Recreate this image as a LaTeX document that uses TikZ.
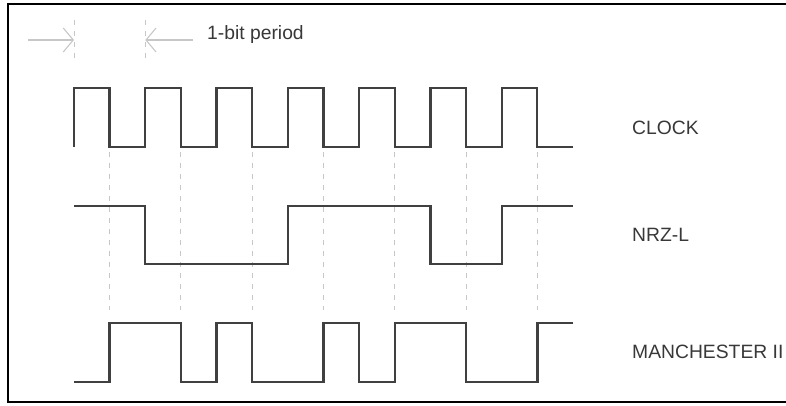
\documentclass[tikz,border=0pt]{standalone}
\usepackage{fontspec}
\setmainfont{Liberation Sans}
\usetikzlibrary{arrows.meta}

\begin{document}
\begin{tikzpicture}[x=1pt,y=-1pt]
\tikzstyle{wave}=[draw=black!75,line width=2.3pt,line join=miter]
\tikzstyle{guide}=[draw=black!22,line width=1pt,dash pattern=on 5pt off 6pt]
\tikzstyle{marker}=[draw=black!22,line width=1.1pt,-{Straight Barb[length=10pt,width=24pt]}]
\tikzstyle{signame}=[anchor=west,inner sep=0pt,text=black!78,font=\fontsize{19.3}{22}\selectfont]
\useasboundingbox (0,0) rectangle (786,406);
\draw[line width=2.4pt] (790,4) -- (8,4) -- (8,402) -- (790,402);
% bit period marker
\draw[guide] (74,20) -- (74,62);
\draw[guide] (145.3,20) -- (145.3,62);
\coordinate (pl) at (28,40);
\coordinate (pa) at (74,40);
\coordinate (pr) at (193,40);
\coordinate (pb) at (145.3,40);
\draw[marker] (pl) -- (pa);
\draw[marker] (pr) -- (pb);
\node[signame] (period) at (207,35) {1-bit period};
% mid-bit guides
\foreach \x in {109.6,180.9,252.3,323.5,394.8,466.1,537.4}
  \draw[guide] (\x,152) -- (\x,310);
% clock
\draw[wave] (74,147) \foreach \k in {0,...,6} { -- ++(0,-59) -- ++(35.64,0) -- ++(0,59) -- ++(35.64,0) };
% NRZ-L
\draw[wave] (74,206) -- (145.3,206) -- (145.3,264) -- (287.9,264) -- (287.9,206)
  -- (430.4,206) -- (430.4,264) -- (501.7,264) -- (501.7,206) -- (573,206);
% Manchester II
\draw[wave] (74,382) -- (109.6,382) -- (109.6,323) -- (180.9,323) -- (180.9,382)
  -- (216.6,382) -- (216.6,323) -- (252.3,323) -- (252.3,382) -- (323.5,382)
  -- (323.5,323) -- (359.1,323) -- (359.1,382) -- (394.8,382) -- (394.8,323)
  -- (466.1,323) -- (466.1,382) -- (537.4,382) -- (537.4,323) -- (573,323);
\node[signame] (clock) at (632,128) {CLOCK};
\node[signame] (nrz) at (632,235) {NRZ-L};
\node[signame] (manch) at (632,352) {MANCHESTER II};
\end{tikzpicture}
\end{document}
